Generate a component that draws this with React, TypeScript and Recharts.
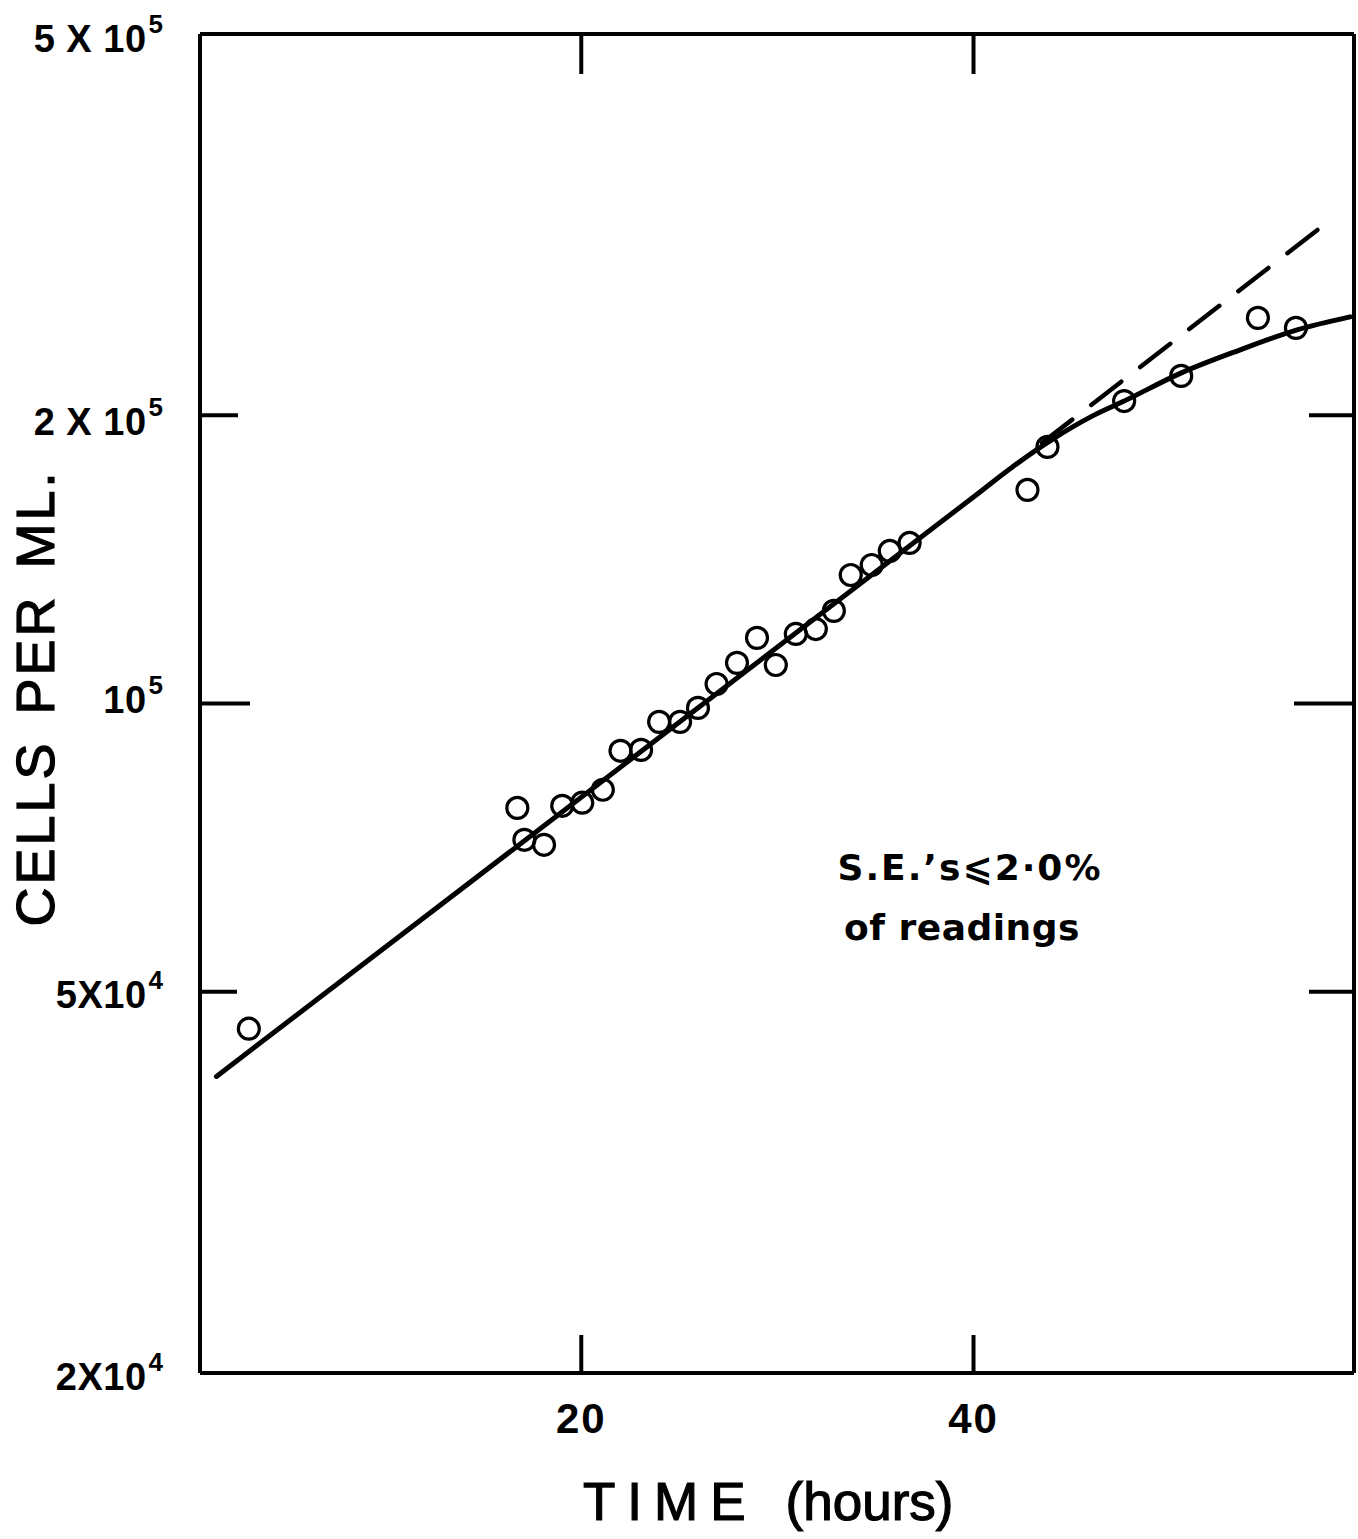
import React from 'react'
import {
  ComposedChart,
  Line,
  Scatter,
  XAxis,
  YAxis,
  Customized
} from 'recharts'

// Observed counts (open circles)
const obsHours = [
  3.05, 16.74, 17.1, 18.1, 19.03, 20.05, 21.1, 22.0, 23.05, 23.97, 25.04,
  25.95, 26.9, 27.94, 28.96, 29.92, 30.94, 31.96, 32.88, 33.74, 34.81, 35.73,
  36.74, 42.75, 43.77, 47.68, 50.59, 54.5, 56.44
]
const obsCells = [
  45760, 77800, 72060, 71200, 78200, 78780, 81270, 89250, 89450, 95680, 95680,
  98950, 104800, 110260, 117100, 109700, 118200, 119600, 124950, 136200,
  139500, 144300, 147100, 167100, 185300, 206900, 219800, 252700, 246700
]

// Drawn growth curve (solid)
const fitHours = [1.4, 40, 42, 44, 46, 47.6, 50.6, 53.5, 56.5, 59.2]
const fitCells = [
  40800, 164300, 176700, 188600, 199300, 206500, 221400, 233600, 245500, 253300
]

// Exponential extrapolation (dashed)
const expHours = [43.5, 58.0]
const expCells = [187100, 317500]

const xTicks = [20, 40]
const yTicks = [500000, 200000, 100000, 50000, 20000]
const yTickBase = ['5 X 10', '2 X 10', '10', '5X10', '2X10']
const yTickExp = ['5', '5', '5', '4', '4']

const toRows = (xs: number[], ys: number[]) =>
  xs.map((h, i) => ({ h, v: ys[i] }))

const observed = toRows(obsHours, obsCells)
const fitted = toRows(fitHours, fitCells)
const extrap = toRows(expHours, expCells)

const LABEL_FONT = '"Liberation Sans", Arial, sans-serif'
const NOTE_FONT = '"DejaVu Sans", sans-serif'

const leftLen: Record<number, number> = { 200000: 38, 100000: 50, 50000: 37 }
const rightLen: Record<number, number> = { 200000: 45, 100000: 60, 50000: 45 }
// hand-lettered labels sit a little unevenly against their ticks
const labelDrop = [18, 20, 9, 16, 17]

function BottomTick(props: any) {
  const { x, y, payload } = props
  return (
    <g>
      <line x1={x} y1={y} x2={x} y2={y - 38} stroke='#000' strokeWidth={4} />
      <text
        x={x}
        y={y + 60}
        textAnchor='middle'
        fontSize={42}
        fontWeight='bold'
        fontFamily={LABEL_FONT}
        letterSpacing={2}
        fill='#000'
      >
        {payload.value}
      </text>
    </g>
  )
}

function TopTick(props: any) {
  const { x, y } = props
  return <line x1={x} y1={y} x2={x} y2={y + 40} stroke='#000' strokeWidth={4} />
}

function LeftTick(props: any) {
  const { x, y, payload } = props
  const i = yTicks.indexOf(payload.value)
  const len = leftLen[payload.value] || 0
  return (
    <g>
      {len > 0 && (
        <line x1={x} y1={y} x2={x + len} y2={y} stroke='#000' strokeWidth={4} />
      )}
      <text
        x={x - 37}
        y={y + labelDrop[i]}
        textAnchor='end'
        fontSize={38}
        fontWeight='bold'
        fontFamily={LABEL_FONT}
        letterSpacing={0.5}
        fill='#000'
      >
        {yTickBase[i]}
        <tspan dx={2} dy={-19} fontSize={26} letterSpacing={0}>
          {yTickExp[i]}
        </tspan>
      </text>
    </g>
  )
}

function RightTick(props: any) {
  const { x, y, payload } = props
  const len = rightLen[payload.value] || 0
  if (!len) return <g />
  return <line x1={x} y1={y} x2={x - len} y2={y} stroke='#000' strokeWidth={4} />
}

function Circle(props: any) {
  const { cx, cy } = props
  return (
    <circle cx={cx} cy={cy} r={10.5} fill='none' stroke='#000' strokeWidth={3.2} />
  )
}

function Titles() {
  return (
    <g fill='#000'>
      <text
        x={35}
        y={698}
        transform='rotate(-90 35 698)'
        textAnchor='middle'
        dominantBaseline='central'
        fontSize={54}
        fontFamily={LABEL_FONT}
        letterSpacing={3}
        stroke='#000'
        strokeWidth={1.2}
      >
        <tspan>CELLS</tspan>
        <tspan dx={26}>PER</tspan>
        <tspan dx={26}>ML.</tspan>
      </text>
      <text
        x={583}
        y={1520}
        fontSize={53}
        fontFamily={LABEL_FONT}
        stroke='#000'
        strokeWidth={1.2}
      >
        <tspan letterSpacing={12}>TIME</tspan>
        <tspan dx={28}>(hours)</tspan>
      </text>
      <text
        x={970}
        y={880}
        textAnchor='middle'
        fontSize={36}
        fontWeight='bold'
        fontFamily={NOTE_FONT}
        letterSpacing={2}
      >
        S.E.’s⩽2·0%
      </text>
      <text
        x={962}
        y={940}
        textAnchor='middle'
        fontSize={36}
        fontWeight='bold'
        fontFamily={NOTE_FONT}
        letterSpacing={0.5}
      >
        of readings
      </text>
    </g>
  )
}

export default function App() {
  return (
    <div
      style={{
        position: 'fixed',
        left: 0,
        top: 0,
        width: 1358,
        height: 1539,
        overflow: 'hidden',
        background: '#fff'
      }}
    >
      <ComposedChart
        width={1358}
        height={1539}
        margin={{ top: 0, right: 0, bottom: 0, left: 0 }}
      >
        <XAxis
          dataKey='h'
          type='number'
          domain={[0.56, 59.4]}
          allowDataOverflow
          ticks={xTicks}
          interval={0}
          height={166}
          tickSize={0}
          tickMargin={0}
          tickLine={false}
          axisLine={{ stroke: '#000', strokeWidth: 4 }}
          tick={<BottomTick />}
        />
        <XAxis
          xAxisId='top'
          orientation='top'
          dataKey='h'
          type='number'
          domain={[0.56, 59.4]}
          allowDataOverflow
          ticks={xTicks}
          interval={0}
          height={34}
          tickSize={0}
          tickMargin={0}
          tickLine={false}
          axisLine={{ stroke: '#000', strokeWidth: 4 }}
          tick={<TopTick />}
        />
        <YAxis
          dataKey='v'
          type='number'
          scale='log'
          domain={[20000, 500000]}
          allowDataOverflow
          ticks={yTicks}
          interval={0}
          width={200}
          tickSize={0}
          tickMargin={0}
          tickLine={false}
          axisLine={{ stroke: '#000', strokeWidth: 4 }}
          tick={<LeftTick />}
        />
        <YAxis
          yAxisId='right'
          orientation='right'
          dataKey='v'
          type='number'
          scale='log'
          domain={[20000, 500000]}
          allowDataOverflow
          ticks={yTicks}
          interval={0}
          width={4}
          tickSize={0}
          tickMargin={0}
          tickLine={false}
          axisLine={{ stroke: '#000', strokeWidth: 4 }}
          tick={<RightTick />}
        />
        <Line
          data={fitted}
          dataKey='v'
          type='monotone'
          stroke='#000'
          strokeWidth={5}
          strokeLinecap='round'
          dot={false}
          activeDot={false}
          isAnimationActive={false}
        />
        <Line
          data={extrap}
          dataKey='v'
          type='linear'
          stroke='#000'
          strokeWidth={4.5}
          strokeDasharray='38 24'
          strokeLinecap='round'
          dot={false}
          activeDot={false}
          isAnimationActive={false}
        />
        <Scatter
          data={observed}
          dataKey='v'
          shape={<Circle />}
          isAnimationActive={false}
        />
        <Customized component={<Titles />} />
      </ComposedChart>
    </div>
  )
}
